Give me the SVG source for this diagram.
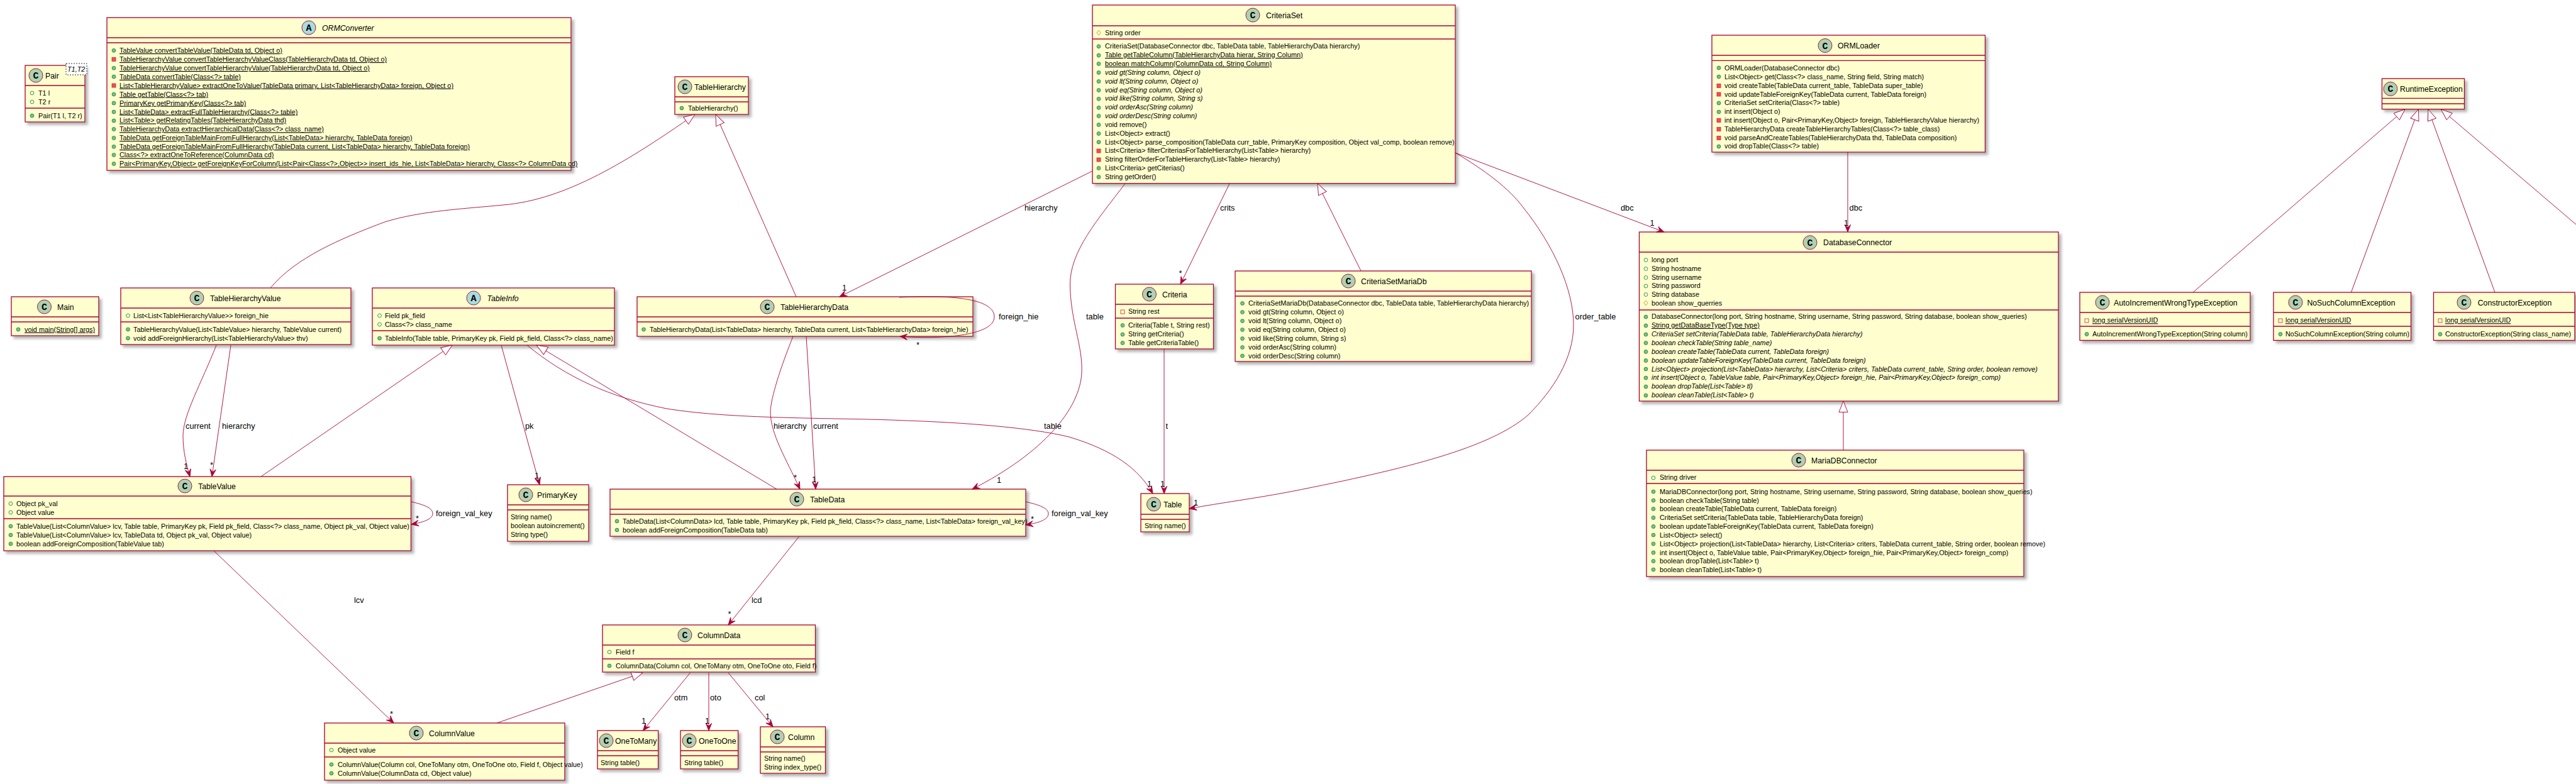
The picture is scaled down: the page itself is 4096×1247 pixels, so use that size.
<svg xmlns="http://www.w3.org/2000/svg" width="4096" height="1247" viewBox="0 0 4096 1247">
<style>
text{font-family:"Liberation Sans",Arial,sans-serif;fill:#000}
.r{font-size:10.85px}
.t{font-size:12.3px}
.l{font-size:12.8px}
.i{font-style:italic}
.u{text-decoration:underline}
.cl{font-family:"Liberation Mono",monospace;font-weight:bold;font-size:15px;text-anchor:middle}
.box{fill:#FEFECE;stroke:#A80036;stroke-width:1.3;filter:url(#sh)}
.sep{fill:none;stroke:#A80036;stroke-width:1.3}
.c{fill:#ADD1B2;stroke:#A80036;stroke-width:.9}
.a{fill:#A9DCDF;stroke:#A80036;stroke-width:.9}
.e{fill:none;stroke:#A80036;stroke-width:.9}
.as{marker-end:url(#vee)}
.ge{marker-end:url(#gen)}
</style>
<defs>
<filter id="sh" x="-5%" y="-5%" width="115%" height="125%"><feDropShadow dx="4" dy="4" stdDeviation="2" flood-color="#666" flood-opacity=".5"/></filter>
<marker id="vee" markerUnits="userSpaceOnUse" orient="auto" markerWidth="14" markerHeight="12" refX="11" refY="5" viewBox="0 0 12 10"><path d="M11,5 L1,1 L5,5 L1,9 Z" fill="#A80036" stroke="#A80036" stroke-width=".8"/></marker>
<marker id="gen" markerUnits="userSpaceOnUse" orient="auto" markerWidth="20" markerHeight="16" refX="18.5" refY="8" viewBox="0 0 20 16"><path d="M18.5,8 L1,1 L1,15 Z" fill="#fff" stroke="#A80036" stroke-width=".9"/></marker>
<circle id="mPub" r="2.9" fill="#84BE84" stroke="#038048" stroke-width=".8"/>
<circle id="aPub" r="2.9" fill="none" stroke="#038048" stroke-width=".8"/>
<rect id="mPriv" x="-3" y="-3" width="6" height="6" fill="#F24D5C" stroke="#C82930" stroke-width=".8"/>
<rect id="aPriv" x="-3" y="-3" width="6" height="6" fill="none" stroke="#C82930" stroke-width=".8"/>
<path id="aProt" d="M0,-4 L3.2,0 L0,4 L-3.2,0 Z" fill="none" stroke="#B38D22" stroke-width=".8"/>
</defs>
<rect width="4096" height="1247" fill="#fff"/>

<g id="Pair">
<rect class="box" x="40" y="104" width="95" height="90"/><path class="sep" d="M40,136H135M40,172H135"/>
<circle class="c" cx="57" cy="120" r="11"/><text class="cl" x="57" y="125">C</text><text class="t" x="72" y="124.5">Pair</text>
<rect x="105" y="101" width="33" height="18" fill="#fff" stroke="#000" stroke-width=".8" stroke-dasharray="2,2"/><text class="r i" x="107" y="114">T1,T2</text>
<use href="#aPub" x="51" y="148"/><text class="r" x="61" y="152">T1 l</text>
<use href="#aPub" x="51" y="162"/><text class="r" x="61" y="166">T2 r</text>
<use href="#mPub" x="51" y="184"/><text class="r" x="61" y="188">Pair(T1 l, T2 r)</text>
</g>

<g id="ORMConverter">
<rect class="box" x="170" y="28" width="738" height="243"/><path class="sep" d="M170,60H908M170,68H908"/>
<circle class="a" cx="491" cy="44" r="11"/><text class="cl" x="491" y="49">A</text><text class="t i" x="512" y="48.5">ORMConverter</text>
<use href="#mPub" x="181" y="80.3"/><text class="r u" x="190" y="84">TableValue convertTableValue(TableData td, Object o)</text>
<use href="#mPriv" x="181" y="94.3"/><text class="r u" x="190" y="98">TableHierarchyValue convertTableHierarchyValueClass(TableHierarchyData td, Object o)</text>
<use href="#mPub" x="181" y="108.3"/><text class="r u" x="190" y="112">TableHierarchyValue convertTableHierarchyValue(TableHierarchyData td, Object o)</text>
<use href="#mPub" x="181" y="122"/><text class="r u" x="190" y="125.8">TableData convertTable(Class&lt;?&gt; table)</text>
<use href="#mPriv" x="181" y="136"/><text class="r u" x="190" y="139.7">List&lt;TableHierarchyValue&gt; extractOneToValue(TableData primary, List&lt;TableHierarchyData&gt; foreign, Object o)</text>
<use href="#mPub" x="181" y="150"/><text class="r u" x="190" y="153.7">Table getTable(Class&lt;?&gt; tab)</text>
<use href="#mPub" x="181" y="164"/><text class="r u" x="190" y="167.6">PrimaryKey getPrimaryKey(Class&lt;?&gt; tab)</text>
<use href="#mPub" x="181" y="178"/><text class="r u" x="190" y="181.5">List&lt;TableData&gt; extractFullTableHierarchy(Class&lt;?&gt; table)</text>
<use href="#mPub" x="181" y="192"/><text class="r u" x="190" y="195.4">List&lt;Table&gt; getRelatingTables(TableHierarchyData thd)</text>
<use href="#mPub" x="181" y="205.5"/><text class="r u" x="190" y="209.3">TableHierarchyData extractHierarchicalData(Class&lt;?&gt; class_name)</text>
<use href="#mPub" x="181" y="219.5"/><text class="r u" x="190" y="223.2">TableData getForeignTableMainFromFullHierarchy(List&lt;TableData&gt; hierarchy, TableData foreign)</text>
<use href="#mPub" x="181" y="233.3"/><text class="r u" x="190" y="237">TableData getForeignTableMainFromFullHierarchy(TableData current, List&lt;TableData&gt; hierarchy, TableData foreign)</text>
<use href="#mPub" x="181" y="246.5"/><text class="r u" x="190" y="250.4">Class&lt;?&gt; extractOneToReference(ColumnData cd)</text>
<use href="#mPub" x="181" y="260.5"/><text class="r u" x="190" y="264.3">Pair&lt;PrimaryKey,Object&gt; getForeignKeyForColumn(List&lt;Pair&lt;Class&lt;?&gt;,Object&gt;&gt; insert_ids_hie, List&lt;TableData&gt; hierarchy, Class&lt;?&gt; ColumnData cd)</text>
</g>

<g id="TableHierarchy">
<rect class="box" x="1073" y="122" width="117" height="60"/><path class="sep" d="M1073,154H1190M1073,162H1190"/>
<circle class="c" cx="1089" cy="138" r="11"/><text class="cl" x="1089" y="143">C</text><text class="t" x="1104" y="142.5">TableHierarchy</text>
<use href="#mPub" x="1084" y="172"/><text class="r" x="1094" y="175.7">TableHierarchy()</text>
</g>

<g id="Main">
<rect class="box" x="18" y="472" width="139" height="62"/><path class="sep" d="M18,504H157M18,512H157"/>
<circle class="c" cx="70.500" cy="488" r="11"/><text class="cl" x="70.500" y="493">C</text><text class="t" x="91" y="492.500">Main</text>
<use href="#mPub" x="29" y="524"/><text class="r u" x="39" y="527.700">void main(String[] args)</text>
</g>

<g id="TableHierarchyValue">
<rect class="box" x="192" y="458" width="366" height="90"/><path class="sep" d="M192,490H558M192,512H558"/>
<circle class="c" cx="313" cy="474" r="11"/><text class="cl" x="313" y="479">C</text><text class="t" x="334" y="478.500">TableHierarchyValue</text>
<use href="#aPub" x="203.500" y="502"/><text class="r" x="212" y="505.700">List&lt;List&lt;TableHierarchyValue&gt;&gt; foreign_hie</text>
<use href="#mPub" x="203.500" y="524"/><text class="r" x="212" y="527.700">TableHierarchyValue(List&lt;TableValue&gt; hierarchy, TableValue current)</text>
<use href="#mPub" x="203.500" y="538"/><text class="r" x="212" y="541.700">void addForeignHierarchy(List&lt;TableHierarchyValue&gt; thv)</text>
</g>

<g id="TableInfo">
<rect class="box" x="592" y="458" width="385" height="91"/><path class="sep" d="M592,490H977M592,526H977"/>
<circle class="a" cx="753" cy="474" r="11"/><text class="cl" x="753" y="479">A</text><text class="t i" x="774.500" y="478.500">TableInfo</text>
<use href="#aPub" x="603.500" y="502"/><text class="r" x="612" y="505.700">Field pk_field</text>
<use href="#aPub" x="603.500" y="516"/><text class="r" x="612" y="519.700">Class&lt;?&gt; class_name</text>
<use href="#mPub" x="603.500" y="538"/><text class="r" x="612" y="541.700">TableInfo(Table table, PrimaryKey pk, Field pk_field, Class&lt;?&gt; class_name)</text>
</g>

<g id="TableHierarchyData">
<rect class="box" x="1013" y="472" width="534" height="63"/><path class="sep" d="M1013,504H1547M1013,512H1547"/>
<circle class="c" cx="1220" cy="488" r="11"/><text class="cl" x="1220" y="493">C</text><text class="t" x="1241" y="492.500">TableHierarchyData</text>
<use href="#mPub" x="1023.500" y="524"/><text class="r" x="1033" y="527.700">TableHierarchyData(List&lt;TableData&gt; hierarchy, TableData current, List&lt;TableHierarchyData&gt; foreign_hie)</text>
</g>

<g id="TableValue">
<rect class="box" x="6" y="758" width="647.500" height="118"/><path class="sep" d="M6,789H653.500M6,825H653.500"/>
<circle class="c" cx="294" cy="773" r="11"/><text class="cl" x="294" y="778">C</text><text class="t" x="315" y="777.500">TableValue</text>
<use href="#aPub" x="17" y="801"/><text class="r" x="26" y="804.700">Object pk_val</text>
<use href="#aPub" x="17" y="815"/><text class="r" x="26" y="818.700">Object value</text>
<use href="#mPub" x="17" y="837"/><text class="r" x="26" y="840.700">TableValue(List&lt;ColumnValue&gt; lcv, Table table, PrimaryKey pk, Field pk_field, Class&lt;?&gt; class_name, Object pk_val, Object value)</text>
<use href="#mPub" x="17" y="851"/><text class="r" x="26" y="854.700">TableValue(List&lt;ColumnValue&gt; lcv, TableData td, Object pk_val, Object value)</text>
<use href="#mPub" x="17" y="865"/><text class="r" x="26" y="868.700">boolean addForeignComposition(TableValue tab)</text>
</g>

<g id="PrimaryKey">
<rect class="box" x="807" y="771" width="129" height="90"/><path class="sep" d="M807,803H936M807,811H936"/>
<circle class="c" cx="836" cy="787" r="11"/><text class="cl" x="836" y="792">C</text><text class="t" x="854" y="791.500">PrimaryKey</text>
<text class="r" x="812" y="825.700">String name()</text>
<text class="r" x="812" y="839.700">boolean autoincrement()</text>
<text class="r" x="812" y="853.700">String type()</text>
</g>

<g id="TableData">
<rect class="box" x="970" y="778" width="661" height="75"/><path class="sep" d="M970,810H1631M970,818H1631"/>
<circle class="c" cx="1267" cy="794" r="11"/><text class="cl" x="1267" y="799">C</text><text class="t" x="1288" y="798.500">TableData</text>
<use href="#mPub" x="981" y="829"/><text class="r" x="990" y="832.700">TableData(List&lt;ColumnData&gt; lcd, Table table, PrimaryKey pk, Field pk_field, Class&lt;?&gt; class_name, List&lt;TableData&gt; foreign_val_key)</text>
<use href="#mPub" x="981" y="843"/><text class="r" x="990" y="846.700">boolean addForeignComposition(TableData tab)</text>
</g>

<g id="Table">
<rect class="box" x="1814" y="785" width="77" height="61"/><path class="sep" d="M1814,818H1891M1814,826H1891"/>
<circle class="c" cx="1834.500" cy="802" r="11"/><text class="cl" x="1834.500" y="807">C</text><text class="t" x="1850" y="806.500">Table</text>
<text class="r" x="1820" y="839.700">String name()</text>
</g>

<g id="ColumnData">
<rect class="box" x="958" y="994" width="338.500" height="75"/><path class="sep" d="M958,1026H1296.500M958,1048H1296.500"/>
<circle class="c" cx="1089" cy="1010" r="11"/><text class="cl" x="1089" y="1015">C</text><text class="t" x="1109" y="1014.500">ColumnData</text>
<use href="#aPub" x="969" y="1037"/><text class="r" x="979" y="1040.700">Field f</text>
<use href="#mPub" x="969" y="1059"/><text class="r" x="979" y="1062.700">ColumnData(Column col, OneToMany otm, OneToOne oto, Field f)</text>
</g>

<g id="ColumnValue">
<rect class="box" x="516" y="1150" width="382" height="91"/><path class="sep" d="M516,1182H898M516,1204H898"/>
<circle class="c" cx="662" cy="1166" r="11"/><text class="cl" x="662" y="1171">C</text><text class="t" x="682" y="1170.500">ColumnValue</text>
<use href="#aPub" x="527" y="1193"/><text class="r" x="537" y="1196.700">Object value</text>
<use href="#mPub" x="527" y="1216"/><text class="r" x="537" y="1219.700">ColumnValue(Column col, OneToMany otm, OneToOne oto, Field f, Object value)</text>
<use href="#mPub" x="527" y="1230"/><text class="r" x="537" y="1233.700">ColumnValue(ColumnData cd, Object value)</text>
</g>

<g id="OneToMany">
<rect class="box" x="950" y="1162" width="96.600" height="61"/><path class="sep" d="M950,1194H1046.600M950,1202H1046.600"/>
<circle class="c" cx="964" cy="1178" r="11"/><text class="cl" x="964" y="1183">C</text><text class="t" x="978" y="1182.500">OneToMany</text>
<text class="r" x="955" y="1216.700">String table()</text>
</g>

<g id="OneToOne">
<rect class="box" x="1082" y="1162" width="91.600" height="61"/><path class="sep" d="M1082,1194H1173.600M1082,1202H1173.600"/>
<circle class="c" cx="1096" cy="1178" r="11"/><text class="cl" x="1096" y="1183">C</text><text class="t" x="1111" y="1182.500">OneToOne</text>
<text class="r" x="1088" y="1216.700">String table()</text>
</g>

<g id="Column">
<rect class="box" x="1209" y="1156" width="103.500" height="74"/><path class="sep" d="M1209,1188H1312.500M1209,1196H1312.500"/>
<circle class="c" cx="1236" cy="1172" r="11"/><text class="cl" x="1236" y="1177">C</text><text class="t" x="1253" y="1176.500">Column</text>
<text class="r" x="1215" y="1209.700">String name()</text>
<text class="r" x="1215" y="1223.700">String index_type()</text>
</g>

<g id="CriteriaSet">
<rect class="box" x="1737" y="8" width="577" height="283.700"/><path class="sep" d="M1737,41H2314M1737,62H2314"/>
<circle class="c" cx="1992" cy="24" r="11"/><text class="cl" x="1992" y="29">C</text><text class="t" x="2013" y="28.500">CriteriaSet</text>
<use href="#aProt" x="1747" y="52"/><text class="r" x="1757" y="55.700">String order</text>
<use href="#mPub" x="1747" y="73.800"/><text class="r" x="1757" y="77">CriteriaSet(DatabaseConnector dbc, TableData table, TableHierarchyData hierarchy)</text>
<use href="#mPub" x="1747" y="88"/><text class="r u" x="1757" y="91">Table getTableColumn(TableHierarchyData hierar, String Column)</text>
<use href="#mPub" x="1747" y="101.500"/><text class="r u" x="1757" y="105">boolean matchColumn(ColumnData cd, String Column)</text>
<use href="#mPub" x="1747" y="115.500"/><text class="r i" x="1757" y="119">void gt(String column, Object o)</text>
<use href="#mPub" x="1747" y="129.500"/><text class="r i" x="1757" y="133">void lt(String column, Object o)</text>
<use href="#mPub" x="1747" y="143.500"/><text class="r i" x="1757" y="146.500">void eq(String column, Object o)</text>
<use href="#mPub" x="1747" y="157.300"/><text class="r i" x="1757" y="160.400">void like(String column, String s)</text>
<use href="#mPub" x="1747" y="171.300"/><text class="r i" x="1757" y="174.300">void orderAsc(String column)</text>
<use href="#mPub" x="1747" y="184.500"/><text class="r i" x="1757" y="188.200">void orderDesc(String column)</text>
<use href="#mPub" x="1747" y="198.500"/><text class="r" x="1757" y="202">void remove()</text>
<use href="#mPub" x="1747" y="212.500"/><text class="r" x="1757" y="216">List&lt;Object&gt; extract()</text>
<use href="#mPub" x="1747" y="226"/><text class="r" x="1757" y="229.500">List&lt;Object&gt; parse_composition(TableData curr_table, PrimaryKey composition, Object val_comp, boolean remove)</text>
<use href="#mPriv" x="1747" y="240"/><text class="r" x="1757" y="243.400">List&lt;Criteria&gt; filterCriteriasForTableHierarchy(List&lt;Table&gt; hierarchy)</text>
<use href="#mPriv" x="1747" y="254"/><text class="r" x="1757" y="257.300">String filterOrderForTableHierarchy(List&lt;Table&gt; hierarchy)</text>
<use href="#mPub" x="1747" y="267.500"/><text class="r" x="1757" y="271.200">List&lt;Criteria&gt; getCiterias()</text>
<use href="#mPub" x="1747" y="281.500"/><text class="r" x="1757" y="285">String getOrder()</text>
</g>

<g id="Criteria">
<rect class="box" x="1773.500" y="452" width="156" height="103"/><path class="sep" d="M1773.500,484H1929.500M1773.500,506H1929.500"/>
<circle class="c" cx="1827.500" cy="468" r="11"/><text class="cl" x="1827.500" y="473">C</text><text class="t" x="1848" y="472.500">Criteria</text>
<use href="#aPriv" x="1785" y="496"/><text class="r" x="1794" y="498.700">String rest</text>
<use href="#mPub" x="1785" y="517.500"/><text class="r" x="1794" y="520.700">Criteria(Table t, String rest)</text>
<use href="#mPub" x="1785" y="532"/><text class="r" x="1794" y="534.700">String getCriteria()</text>
<use href="#mPub" x="1785" y="545.500"/><text class="r" x="1794" y="548.700">Table getCriteriaTable()</text>
</g>

<g id="CriteriaSetMariaDb">
<rect class="box" x="1964" y="431" width="471" height="144"/><path class="sep" d="M1964,463H2435M1964,471H2435"/>
<circle class="c" cx="2144" cy="447" r="11"/><text class="cl" x="2144" y="452">C</text><text class="t" x="2164" y="451.500">CriteriaSetMariaDb</text>
<use href="#mPub" x="1975.500" y="482.500"/><text class="r" x="1985" y="486">CriteriaSetMariaDb(DatabaseConnector dbc, TableData table, TableHierarchyData hierarchy)</text>
<use href="#mPub" x="1975.500" y="496.500"/><text class="r" x="1985" y="500">void gt(String column, Object o)</text>
<use href="#mPub" x="1975.500" y="510.500"/><text class="r" x="1985" y="514">void lt(String column, Object o)</text>
<use href="#mPub" x="1975.500" y="524.500"/><text class="r" x="1985" y="528">void eq(String column, Object o)</text>
<use href="#mPub" x="1975.500" y="538.500"/><text class="r" x="1985" y="542">void like(String column, String s)</text>
<use href="#mPub" x="1975.500" y="552.500"/><text class="r" x="1985" y="556">void orderAsc(String column)</text>
<use href="#mPub" x="1975.500" y="566"/><text class="r" x="1985" y="569.500">void orderDesc(String column)</text>
</g>

<g id="ORMLoader">
<rect class="box" x="2722" y="56" width="434.500" height="186"/><path class="sep" d="M2722,88H3156.500M2722,96.400H3156.500"/>
<circle class="c" cx="2902" cy="72.500" r="11"/><text class="cl" x="2902" y="77.500">C</text><text class="t" x="2922" y="77">ORMLoader</text>
<use href="#mPub" x="2733" y="108"/><text class="r" x="2742" y="111.700">ORMLoader(DatabaseConnector dbc)</text>
<use href="#mPub" x="2733" y="122"/><text class="r" x="2742" y="125.700">List&lt;Object&gt; get(Class&lt;?&gt; class_name, String field, String match)</text>
<use href="#mPriv" x="2733" y="136.400"/><text class="r" x="2742" y="140">void createTable(TableData current_table, TableData super_table)</text>
<use href="#mPriv" x="2733" y="150"/><text class="r" x="2742" y="153.500">void updateTableForeignKey(TableData current, TableData foreign)</text>
<use href="#mPub" x="2733" y="164"/><text class="r" x="2742" y="167.300">CriteriaSet setCriteria(Class&lt;?&gt; table)</text>
<use href="#mPub" x="2733" y="178"/><text class="r" x="2742" y="181.200">int insert(Object o)</text>
<use href="#mPriv" x="2733" y="191.500"/><text class="r" x="2742" y="195.100">int insert(Object o, Pair&lt;PrimaryKey,Object&gt; foreign, TableHierarchyValue hierarchy)</text>
<use href="#mPriv" x="2733" y="205.500"/><text class="r" x="2742" y="209.100">TableHierarchyData createTableHierarchyTables(Class&lt;?&gt; table_class)</text>
<use href="#mPriv" x="2733" y="219.500"/><text class="r" x="2742" y="223.300">void parseAndCreateTables(TableHierarchyData thd, TableData composition)</text>
<use href="#mPub" x="2733" y="233"/><text class="r" x="2742" y="236.400">void dropTable(Class&lt;?&gt; table)</text>
</g>

<g id="DatabaseConnector">
<rect class="box" x="2606.500" y="369" width="666.500" height="269"/><path class="sep" d="M2606.500,401H3273M2606.500,493H3273"/>
<circle class="c" cx="2878" cy="385.700" r="11"/><text class="cl" x="2878" y="390.700">C</text><text class="t" x="2899" y="390.200">DatabaseConnector</text>
<use href="#aPub" x="2617" y="413.500"/><text class="r" x="2626" y="416.700">long port</text>
<use href="#aPub" x="2617" y="427.500"/><text class="r" x="2626" y="430.600">String hostname</text>
<use href="#aPub" x="2617" y="441.500"/><text class="r" x="2626" y="444.500">String username</text>
<use href="#aPub" x="2617" y="455"/><text class="r" x="2626" y="458.400">String password</text>
<use href="#aPub" x="2617" y="468.500"/><text class="r" x="2626" y="472.300">String database</text>
<use href="#aProt" x="2617" y="482"/><text class="r" x="2626" y="486.200">boolean show_querries</text>
<use href="#mPub" x="2617" y="504"/><text class="r" x="2626" y="507">DatabaseConnector(long port, String hostname, String username, String password, String database, boolean show_queries)</text>
<use href="#mPub" x="2617" y="518"/><text class="r u" x="2626" y="521">String getDataBaseType(Type type)</text>
<use href="#mPub" x="2617" y="532"/><text class="r i" x="2626" y="535">CriteriaSet setCriteria(TableData table, TableHierarchyData hierarchy)</text>
<use href="#mPub" x="2617" y="545.500"/><text class="r i" x="2626" y="549">boolean checkTable(String table_name)</text>
<use href="#mPub" x="2617" y="559.500"/><text class="r i" x="2626" y="562.800">boolean createTable(TableData current, TableData foreign)</text>
<use href="#mPub" x="2617" y="573.500"/><text class="r i" x="2626" y="576.700">boolean updateTableForeignKey(TableData current, TableData foreign)</text>
<use href="#mPub" x="2617" y="587"/><text class="r i" x="2626" y="590.500">List&lt;Object&gt; projection(List&lt;TableData&gt; hierarchy, List&lt;Criteria&gt; criters, TableData current_table, String order, boolean remove)</text>
<use href="#mPub" x="2617" y="601"/><text class="r i" x="2626" y="604.400">int insert(Object o, TableValue table, Pair&lt;PrimaryKey,Object&gt; foreign_hie, Pair&lt;PrimaryKey,Object&gt; foreign_comp)</text>
<use href="#mPub" x="2617" y="615"/><text class="r i" x="2626" y="618.300">boolean dropTable(List&lt;Table&gt; tl)</text>
<use href="#mPub" x="2617" y="629"/><text class="r i" x="2626" y="632.200">boolean cleanTable(List&lt;Table&gt; t)</text>
</g>

<g id="MariaDBConnector">
<rect class="box" x="2618" y="716" width="600" height="201"/><path class="sep" d="M2618,748H3218M2618,769H3218"/>
<circle class="c" cx="2860" cy="732" r="11"/><text class="cl" x="2860" y="737">C</text><text class="t" x="2880" y="736.500">MariaDBConnector</text>
<use href="#aPub" x="2629" y="760"/><text class="r" x="2639" y="763">String driver</text>
<use href="#mPub" x="2629" y="782"/><text class="r" x="2639" y="785.500">MariaDBConnector(long port, String hostname, String username, String password, String database, boolean show_queries)</text>
<use href="#mPub" x="2629" y="796"/><text class="r" x="2639" y="799.500">boolean checkTable(String table)</text>
<use href="#mPub" x="2629" y="809.500"/><text class="r" x="2639" y="813.200">boolean createTable(TableData current, TableData foreign)</text>
<use href="#mPub" x="2629" y="823.500"/><text class="r" x="2639" y="827">CriteriaSet setCriteria(TableData table, TableHierarchyData foreign)</text>
<use href="#mPub" x="2629" y="837.500"/><text class="r" x="2639" y="841">boolean updateTableForeignKey(TableData current, TableData foreign)</text>
<use href="#mPub" x="2629" y="851"/><text class="r" x="2639" y="854.500">List&lt;Object&gt; select()</text>
<use href="#mPub" x="2629" y="865"/><text class="r" x="2639" y="868.500">List&lt;Object&gt; projection(List&lt;TableData&gt; hierarchy, List&lt;Criteria&gt; criters, TableData current_table, String order, boolean remove)</text>
<use href="#mPub" x="2629" y="879"/><text class="r" x="2639" y="882.500">int insert(Object o, TableValue table, Pair&lt;PrimaryKey,Object&gt; foreign_hie, Pair&lt;PrimaryKey,Object&gt; foreign_comp)</text>
<use href="#mPub" x="2629" y="892.500"/><text class="r" x="2639" y="896.200">boolean dropTable(List&lt;Table&gt; t)</text>
<use href="#mPub" x="2629" y="906"/><text class="r" x="2639" y="910">boolean cleanTable(List&lt;Table&gt; t)</text>
</g>

<g id="RuntimeException">
<rect class="box" x="3787.500" y="125" width="131" height="48.600"/><path class="sep" d="M3787.500,156.400H3918.500M3787.500,165H3918.500"/>
<circle class="c" cx="3801" cy="141.400" r="11"/><text class="cl" x="3801" y="146.400">C</text><text class="t" x="3816" y="145.900">RuntimeException</text>
</g>

<g id="AutoIncrementWrongTypeException">
<rect class="box" x="3307" y="465" width="271" height="76.400"/><path class="sep" d="M3307,497H3578M3307,519H3578"/>
<circle class="c" cx="3343" cy="481" r="11"/><text class="cl" x="3343" y="486">C</text><text class="t" x="3361" y="485.500">AutoIncrementWrongTypeException</text>
<use href="#aPriv" x="3318" y="510"/><text class="r u" x="3327" y="513.300">long serialVersionUID</text>
<use href="#mPub" x="3318" y="531.500"/><text class="r" x="3327" y="535.100">AutoIncrementWrongTypeException(String column)</text>
</g>

<g id="NoSuchColumnException">
<rect class="box" x="3615" y="465" width="218.600" height="76.400"/><path class="sep" d="M3615,497H3833.600M3615,519H3833.600"/>
<circle class="c" cx="3650" cy="481" r="11"/><text class="cl" x="3650" y="486">C</text><text class="t" x="3668.400" y="485.500">NoSuchColumnException</text>
<use href="#aPriv" x="3626" y="510"/><text class="r u" x="3634" y="513.300">long serialVersionUID</text>
<use href="#mPub" x="3626" y="531.500"/><text class="r" x="3634" y="535.100">NoSuchColumnException(String column)</text>
</g>

<g id="ConstructorException">
<rect class="box" x="3869.500" y="465" width="224.500" height="76.400"/><path class="sep" d="M3869.500,497H4094M3869.500,519H4094"/>
<circle class="c" cx="3918" cy="481" r="11"/><text class="cl" x="3918" y="486">C</text><text class="t" x="3939.700" y="485.500">ConstructorException</text>
<use href="#aPriv" x="3880" y="510"/><text class="r u" x="3888" y="513.300">long serialVersionUID</text>
<use href="#mPub" x="3880" y="531.500"/><text class="r" x="3888" y="535.100">ConstructorException(String class_name)</text>
</g>

<g id="connectors">
<path class="e ge" d="M430,458C470,410 540,380 612,353C670,335 740,332 800,326C900,318 1000,255 1105,182"/>
<path class="e ge" d="M1266,472L1138,182"/>
<path class="e as" d="M344,549C320,610 291,660 291,693C291,720 297,740 302,758"/>
<path class="e as" d="M367,549L337,758"/>
<path class="e ge" d="M415,758L719,549"/>
<path class="e ge" d="M1235,778L853,549"/>
<path class="e as" d="M797,549L858,771"/>
<path class="e as" d="M838,549C900,600 970,632 1060,650C1170,668 1340,664 1441,669C1530,672 1640,680 1700,695C1770,716 1810,745 1833,785"/>
<path class="e as" d="M1261,535C1235,600 1225,640 1225,655C1225,690 1250,730 1272,778"/>
<path class="e as" d="M1282,535L1297,778"/>
<path class="e as" d="M1737,272L1335,472"/>
<path class="e as" d="M1789,292C1745,350 1701,400 1701.500,453C1702,510 1722,550 1720,593C1717,650 1660,720 1546,778"/>
<path class="e as" d="M1955,292L1877,452"/>
<path class="e as" d="M1851,555L1851,785"/>
<path class="e ge" d="M2164,431L2095,292"/>
<path class="e as" d="M2314,243C2360,270 2400,300 2422,330C2470,390 2502,460 2502,517C2502,570 2470,620 2430,660C2370,712 2240,745 2052,782C2000,792 1940,800 1891,809"/>
<path class="e as" d="M2314,243L2646,369"/>
<path class="e ge" d="M2931,716L2931,638"/>
<path class="e as" d="M2938,242L2938,369"/>
<path class="e ge" d="M3487,465L3824,174"/>
<path class="e ge" d="M3738.500,465L3845.500,174"/>
<path class="e ge" d="M3967,465L3861,174"/>
<path class="e ge" d="M4096,357L3881.500,174"/>
<path class="e as" d="M340,876L626,1150"/>
<path class="e ge" d="M790,1150L1022,1070"/>
<path class="e as" d="M1270.500,853.500L1158,994"/>
<path class="e as" d="M1097.500,1070L1022.500,1162"/>
<path class="e as" d="M1127,1070L1127,1162"/>
<path class="e as" d="M1158,1070L1229,1156"/>
<path class="e as" d="M1430,473C1490,470 1581,470 1581,504C1581,535 1490,540 1431,535"/>
<path class="e as" d="M654,798C675,803 688,808 688,817C688,826 672,831 654,834"/>
<path class="e as" d="M1631,798C1652,803 1667,808 1667,817C1667,827 1650,832 1631,835"/>
<g id="labels">
<text class="l" x="295" y="682">current</text><text class="l" x="292" y="746">1</text>
<text class="l" x="353" y="682">hierarchy</text><text class="l" x="334" y="744">*</text>
<text class="l" x="835" y="682">pk</text><text class="l" x="850" y="761">1</text>
<text class="l" x="1660" y="682">table</text><text class="l" x="1824" y="774">1</text>
<text class="l" x="1230" y="682">hierarchy</text><text class="l" x="1262" y="764">*</text>
<text class="l" x="1293" y="682">current</text><text class="l" x="1291" y="767">1</text>
<text class="l" x="1629" y="335">hierarchy</text><text class="l" x="1339" y="462">1</text>
<text class="l" x="1727" y="508">table</text><text class="l" x="1585" y="768">1</text>
<text class="l" x="1940" y="335">crits</text><text class="l" x="1874.500" y="439">*</text>
<text class="l" x="1853.500" y="682">t</text><text class="l" x="1845" y="774">1</text>
<text class="l" x="2504.600" y="508">order_table</text><text class="l" x="1898" y="804">1</text>
<text class="l" x="2577" y="335">dbc</text><text class="l" x="2623.500" y="359">1</text>
<text class="l" x="2940.600" y="335">dbc</text><text class="l" x="2932" y="359">1</text>
<text class="l" x="563" y="959">lcv</text><text class="l" x="620" y="1140">*</text>
<text class="l" x="1195" y="959">lcd</text><text class="l" x="1157.500" y="981">*</text>
<text class="l" x="1072" y="1114">otm</text><text class="l" x="1020" y="1151">1</text>
<text class="l" x="1129" y="1114">oto</text><text class="l" x="1121" y="1151">1</text>
<text class="l" x="1200" y="1114">col</text><text class="l" x="1217" y="1144">1</text>
<text class="l" x="1588" y="508">foreign_hie</text><text class="l" x="1457" y="553">*</text>
<text class="l" x="693" y="821">foreign_val_key</text><text class="l" x="661" y="829">*</text>
<text class="l" x="1672" y="821">foreign_val_key</text><text class="l" x="1639" y="830">*</text>
</g>
</g>
</svg>
